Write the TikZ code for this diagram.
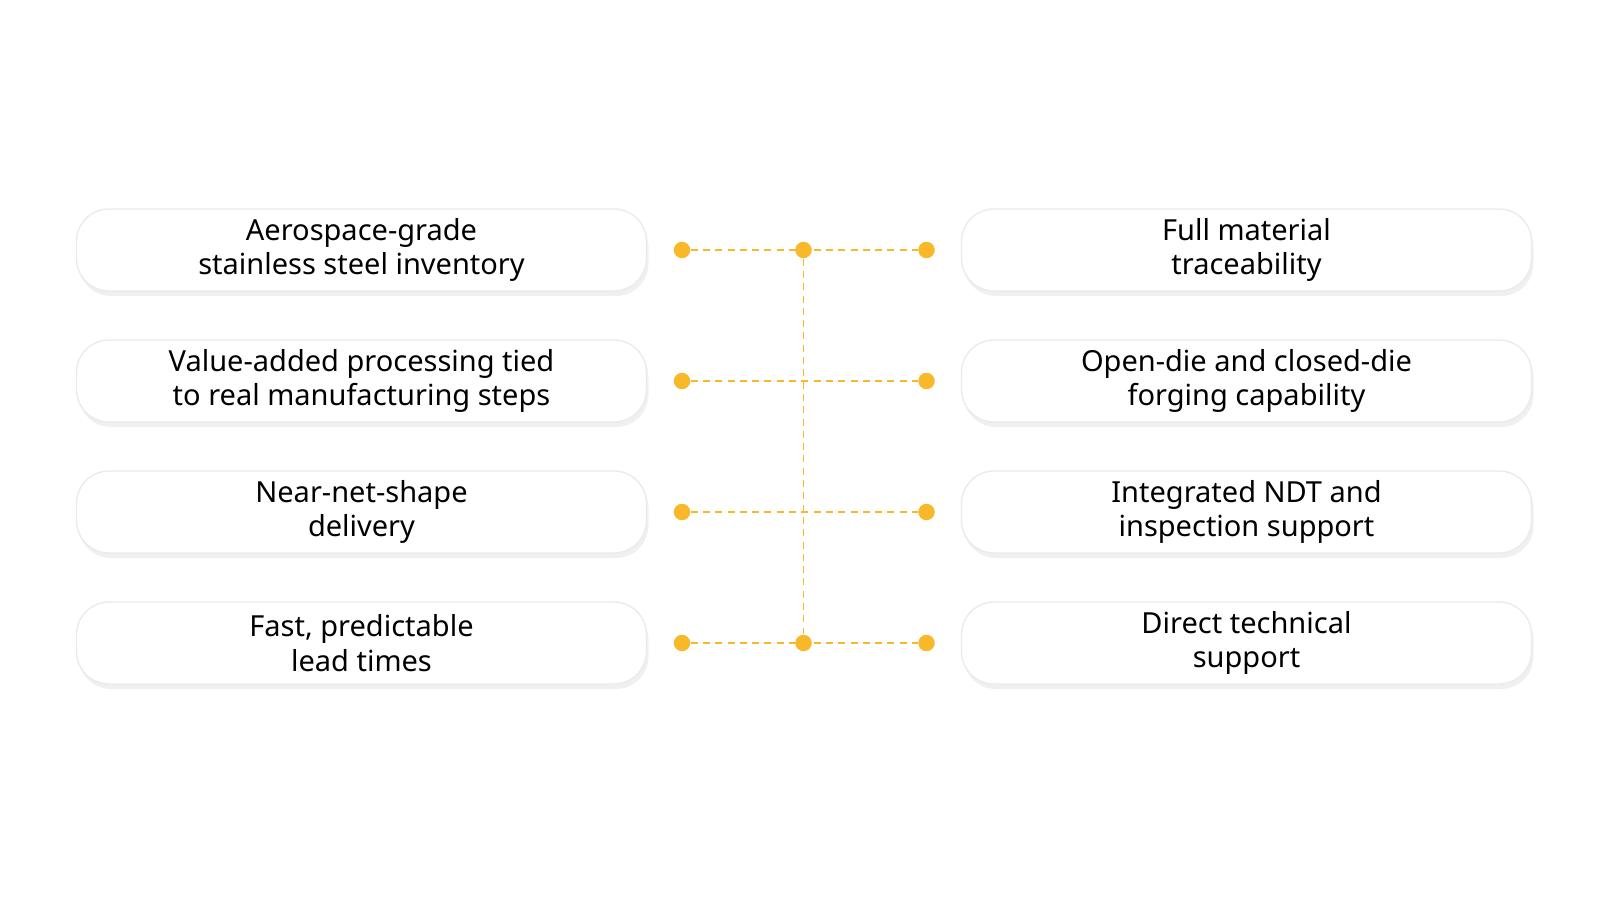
\documentclass[tikz,border=0pt]{standalone}
\usepackage{fontspec}
\setmainfont{Noto Sans}
\usetikzlibrary{shadows}
\definecolor{dotorange}{HTML}{F9B82A}
\tikzset{
  feature/.style={draw=black!8, line width=0.8pt, fill=white, rounded corners=0.65cm,
    minimum width=11.4cm, minimum height=1.64cm, align=center, font=\fontsize{16.5}{19.5}\selectfont,
    drop shadow={opacity=0.12, shadow xshift=0.04cm, shadow yshift=-0.1cm}},
  dot/.style={circle, fill=dotorange, inner sep=0pt, minimum size=0.33cm},
  link/.style={dotorange, line width=1.1pt, dash pattern=on 4pt off 3pt}
}
\begin{document}
\begin{tikzpicture}
\useasboundingbox (0,0) rectangle (32,18);
% left column
\node[feature] (l1) at (7.23,13.0) {Aerospace-grade\\stainless steel inventory};
\node[feature] (l2) at (7.23,10.38) {Value-added processing tied\\to real manufacturing steps};
\node[feature] (l3) at (7.23,7.76) {Near-net-shape\\delivery};
\node[feature] (l4) at (7.23,5.14) {Fast, predictable\\lead times};
% right column
\node[feature] (r1) at (24.93,13.0) {Full material\\traceability};
\node[feature] (r2) at (24.93,10.38) {Open-die and closed-die\\forging capability};
\node[feature] (r3) at (24.93,7.76) {Integrated NDT and\\inspection support};
\node[feature] (r4) at (24.93,5.14) {Direct technical\\support};
% connectors
\foreach \i/\y in {1/13.0,2/10.38,3/7.76,4/5.14}{
  \node[dot] (a\i) at (13.64,\y) {};
  \node[dot] (b\i) at (18.53,\y) {};
  \draw[link] (a\i) -- (b\i);
}
\node[dot] (top) at (16.07,13.0) {};
\node[dot] (bot) at (16.07,5.14) {};
\draw[link] (top) -- (bot);
\end{tikzpicture}
\end{document}
